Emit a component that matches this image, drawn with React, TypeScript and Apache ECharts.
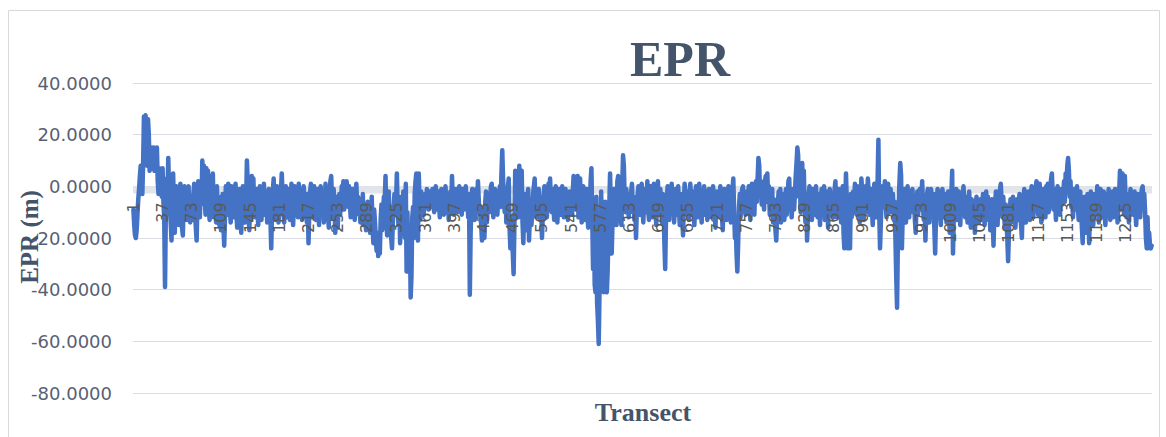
import React, { useEffect, useRef } from "react";
import * as echarts from "echarts";

// EPR values (m) per transect in blocks of 36 transects
const epr0001 = [-9,-15,-19,-20,-17,-11,-5,-1,4,8,2,-3,9,27,25,27.5,22,8,26,20,6,12,7,15,9,15,6,14,7,15,2,-3,7,-2,6,-4];
const epr0037 = [7,-6,-12,-39,-10,3,-4,11,-2,-8,-14,-21,-6,5,-9,-18,-3,0,-12,-7,-15,-2,1,-10,-16,-19,-5,0,-11,-6,-13,-1,0,-8,-14,-4];
const epr0073 = [-9,-13,-3,1,-10,-16,-21,-6,2,-4,-12,-1,-7,10,3,8,-5,-11,7,-2,6,-9,-13,-3,4,-8,5,-12,-1,-6,-14,0,-9,-4,-15,-7];
const epr0109 = [-17,-10,-3,-15,-23,-12,0,-6,-11,1,-4,-9,-14,0,-7,-2,-12,-5,1,-10,-16,-3,-8,-1,-13,-18,-6,0,-9,-4,-14,-7,10,2,-11,-17];
const epr0145 = [-6,-13,4,-2,3,-8,-12,-5,-1,-10,-15,-4,0,-9,-13,-3,-7,1,-11,-6,-2,-14,-8,-1,-5,-12,-24,-10,-2,3,-6,-13,-4,0,-9,-14];
const epr0181 = [-7,-11,-2,5,-3,-9,-14,-5,0,-8,-12,-1,-6,-13,-4,1,-9,-15,-7,0,-3,-10,-6,-12,1,-5,-9,-2,-13,-7,0,-4,-11,-8,-14,-3];
const epr0217 = [-22,-9,-2,1,-6,-12,-4,0,-8,-13,-5,-1,-9,-15,-3,0,-7,-11,-2,-14,-6,1,-10,-4,-8,-16,-3,2,4,-5,-12,-1,-7,-18,-9,-4];
const epr0253 = [-16,-8,-3,-11,-6,0,-4,2,-9,1,-5,2,-2,-8,0,-6,-12,-3,-1,-9,-5,-13,-2,1,-7,-4,-11,-8,-14,-5,-10,-3,-15,-9,-12,-17];
const epr0289 = [-10,-6,-14,-8,-18,-12,-4,-16,-22,-9,-14,-20,-25,-18,-27,-20,-26,-13,-7,-17,-10,-4,-6,4,-12,-19,-9,-2,-15,-12,-20,-24,-14,-8,-3,-11];
const epr0325 = [-6,5,-9,-15,-4,-22,-12,-18,-7,-2,-14,-20,1,-33,-10,-25,-30,-16,-43,-35,-12,-8,-20,-3,2,5,-10,-21,5,-6,-13,-2,-8,-4,-11,-6];
const epr0361 = [-3,-7,-1,-5,-9,-2,-6,-4,-8,-1,-5,-10,-3,0,-6,-9,-2,-7,-12,-4,-1,-8,-5,-11,-3,0,-7,-10,-4,-13,-6,-2,-9,4,-5,-11];
const epr0397 = [-3,-8,-1,-5,-10,-2,0,-7,-4,-11,-1,-6,-9,-2,0,-8,-5,-12,-3,-42,-18,-6,-1,-9,-4,-13,-7,-1,-10,2,-5,-11,-8,-15,-21,-9];
const epr0433 = [-12,-20,-6,-2,-14,-8,-3,-10,-5,0,1,-7,-12,-3,-1,-9,-4,-11,-2,-6,0,-8,5,14,3,-5,-10,-2,-14,-6,0,3,-16,-24,-12,-18];
const epr0469 = [-26,-34,-15,6,-4,-9,2,-12,8,-2,-7,6,-14,-22,-8,-3,-17,-10,-5,-1,-21,-12,-6,-15,-9,-3,0,3,-7,-12,-4,-10,-1,-6,-13,-8];
const epr0505 = [-20,-11,-4,0,-8,-3,-12,-6,1,-2,3,-5,-10,-1,-7,-13,-3,0,-9,-14,-6,-1,-4,-11,-2,0,-8,-12,-5,-1,-9,-3,-13,-7,-2,-10];
const epr0541 = [-5,-11,-2,4,-6,3,-9,-1,4,-12,-4,3,-7,-14,-3,0,-8,-13,-5,-1,-10,-16,-4,-9,2,7,-12,-32,-6,-38,-41,-4,-45,-52,-61,-40];
const epr0577 = [-30,-2,-20,-35,-41,-28,-6,-40,-41,-33,-18,-8,5,-10,-26,-14,-6,-1,-11,-4,-15,2,4,-7,-2,-12,-15,0,12,8,-5,-10,-1,-7,-3,-12];
const epr0613 = [-6,-10,-2,1,-8,-4,-13,-7,-20,-9,-3,0,-6,-11,-2,1,-8,-14,-4,-1,-10,-5,2,-9,-13,-3,0,-7,-12,-2,1,-6,-10,-15,-4,2];
const epr0649 = [-5,-11,-1,-7,-14,-3,-9,-22,-32,-12,-4,0,-8,-13,-2,-6,1,-10,-4,-14,-7,-1,-11,-5,0,-9,-15,-3,-7,-12,-19,-6,1,-4,-10,-2];
const epr0685 = [-8,-13,-3,1,-6,-11,-2,-9,-15,-4,0,-7,-12,-1,1,-5,-10,-14,-3,-8,0,-6,-11,-2,-13,-5,-1,-9,-4,-12,-7,0,-3,-10,-16,-6];
const epr0721 = [-2,-9,-4,-12,0,-6,-11,-17,-5,-1,-8,-3,-13,-6,0,-10,-4,-14,-7,-1,3,-9,-20,-14,-26,-33,-22,-8,-3,-12,-5,-1,0,-9,-4,-11];
const epr0757 = [-6,-2,-10,0,-5,-13,-3,1,-8,-4,-11,-1,2,-6,3,11,8,-3,2,-7,1,-4,-9,2,4,-2,5,-6,0,-11,-3,-8,-1,-14,-5,-10];
const epr0793 = [-17,-21,-12,-6,-2,-9,-1,-14,-5,-10,-3,-13,-7,-1,-11,-4,2,3,-8,-2,-12,-5,-1,-9,-3,4,9,15,12,-4,6,-10,1,9,-3,6];
const epr0829 = [-8,-14,-5,-21,-12,-3,0,-9,-4,-13,-1,-7,-11,-2,0,-6,-12,-3,-8,-15,-5,-1,-10,-4,0,-13,-6,-2,-9,-16,-4,-1,-11,-7,-3,-12];
const epr0865 = [-5,-1,2,-8,-12,-4,-1,-9,-6,-14,-3,0,-18,-24,-10,5,-6,-24,-15,-9,-24,-3,-12,-7,-2,-10,1,-5,-11,0,-4,-9,-14,-6,3,-2];
const epr0901 = [-8,-13,-4,0,-10,-5,3,-2,-11,-6,-1,-9,-15,-4,1,-8,-3,-12,2,18,-10,-24,-14,-5,0,-8,-3,2,-7,-12,-2,1,-6,-10,-1,-5];
const epr0937 = [-9,-3,-13,-6,-20,-35,-47,-22,-8,2,9,4,-24,-11,-4,-1,-9,-14,-5,0,-7,-12,-2,-8,-4,-1,-10,-6,-13,-18,-7,-2,-11,-5,-1,-9];
const epr0973 = [-4,2,-8,-13,-6,-21,-10,-3,-1,-9,-14,-4,-1,-7,-11,-3,-16,-26,-12,-5,-1,-8,-2,-10,-15,-4,-1,-7,-12,-3,-9,-14,-6,-2,-11,-18];
const epr1009 = [-10,-3,6,-26,-12,-4,-8,-1,-13,-6,-2,-10,-15,-5,-9,-3,0,-7,-12,-4,-9,-14,-6,-2,-11,-16,-5,-9,-13,-6,-18,-8,-4,-11,-7,-14];
const epr1045 = [-9,-5,-12,-7,-3,-10,-15,-6,-2,-9,-4,-13,-8,-17,-10,-5,-14,-23,-11,-6,-2,-9,-15,-4,-8,-1,1,-6,-12,-4,-10,-16,-7,-13,-20,-29];
const epr1081 = [-18,-10,-5,-14,-8,-4,-12,-6,-16,-9,-5,-13,-7,-3,-11,-15,-20,-8,-4,-1,-9,-14,-5,-10,-2,-7,-13,-4,0,-8,-12,-3,-9,-1,2,-6];
const epr1117 = [-11,-4,1,-8,-14,-3,-9,-1,-6,-12,0,-4,1,-10,-5,-2,3,5,-3,-9,-1,-6,-13,-4,0,-8,-2,-11,-5,-1,-7,-3,2,-6,5,1];
const epr1153 = [8,11,6,-4,2,-8,-3,-12,-6,-1,-9,-4,0,-7,-13,-5,-2,-10,-16,-22,-9,-4,-13,-7,-18,-3,-11,-22,-8,-2,-12,-5,-15,-9,-3,-10];
const epr1189 = [-6,0,-9,-14,-4,-1,-8,-12,-5,-2,-10,-15,-6,-3,-11,-1,-7,-13,-4,-9,-2,-12,-6,-1,-10,-4,-14,-7,-2,6,-5,-9,5,-3,-11,4];
const epr1225 = [-6,-12,-3,-8,-14,-5,-1,-9,-4,-11,-7,-2,-10,-15,-6,-3,-9,-5,-12,-4,-1,0,-8,-3,-10,-20,-24,-12,-24,-18,-23,-24,-23];

const eprValues: number[] = [
  ...epr0001, ...epr0037, ...epr0073, ...epr0109, ...epr0145, ...epr0181, ...epr0217,
  ...epr0253, ...epr0289, ...epr0325, ...epr0361, ...epr0397, ...epr0433, ...epr0469,
  ...epr0505, ...epr0541, ...epr0577, ...epr0613, ...epr0649, ...epr0685, ...epr0721,
  ...epr0757, ...epr0793, ...epr0829, ...epr0865, ...epr0901, ...epr0937, ...epr0973,
  ...epr1009, ...epr1045, ...epr1081, ...epr1117, ...epr1153, ...epr1189, ...epr1225,
];

// Transect numbers 1..N (category labels)
const transects: string[] = eprValues.map((_, i) => String(i + 1));

const yMin = -80;
const yMax = 40;
const yStep = 20;

const GRID_TOP = 83;
const GRID_BOTTOM = 44;
const CHART_H = 437;

export default function App() {
  const ref = useRef<HTMLDivElement>(null);

  useEffect(() => {
    if (!ref.current) return;
    const chart = echarts.init(ref.current, null, { renderer: "svg" });
    const slate = "#44546a";
    const gridH = CHART_H - GRID_TOP - GRID_BOTTOM;
    const zeroY = GRID_TOP + (yMax / (yMax - yMin)) * gridH;
    const axisOffset = zeroY - (CHART_H - GRID_BOTTOM);
    chart.setOption({
      animation: false,
      backgroundColor: "#ffffff",
      grid: {
        left: 133,
        right: 14,
        top: GRID_TOP,
        bottom: GRID_BOTTOM,
        containLabel: false,
        outerBoundsMode: "none",
      },
      xAxis: {
        type: "category",
        data: transects,
        boundaryGap: true,
        position: "bottom",
        offset: axisOffset,
        z: 50,
        zlevel: 1,
        axisLine: { show: false, onZero: false },
        axisTick: { show: false },
        axisLabel: {
          interval: 35,
          rotate: 90,
          margin: 16,
          fontFamily: "DejaVu Sans",
          fontSize: 16,
          color: "#595959",
        },
        splitLine: { show: false },
      },
      yAxis: {
        type: "value",
        min: yMin,
        max: yMax,
        interval: yStep,
        z: 0,
        axisLine: { show: false },
        axisTick: { show: false },
        axisLabel: {
          formatter: (v: number) => v.toFixed(4),
          fontFamily: "DejaVu Sans",
          fontSize: 18,
          color: "#586174",
          margin: 21,
        },
        splitLine: { lineStyle: { color: "#d9dde3", width: 1 } },
      },
      series: [
        {
          type: "line",
          z: 1,
          data: eprValues,
          showSymbol: false,
          symbol: "none",
          lineStyle: { color: "#4472c4", width: 4.5, join: "round", cap: "round" },
          markArea: {
            silent: true,
            itemStyle: { color: "#e1e4e9" },
            data: [[{ yAxis: 0 }, { yAxis: -2.8 }]],
          },
        },
      ],
      graphic: [
        {
          type: "rect",
          shape: { x: 8.5, y: 10.5, width: 1151, height: 440 },
          style: { fill: "none", stroke: "#d9d9d9", lineWidth: 1 },
          silent: true,
        },
        {
          type: "text",
          x: 680,
          y: 59,
          style: {
            text: "EPR",
            fontFamily: "Liberation Serif",
            fontWeight: "bold",
            fontSize: 50,
            fill: slate,
            align: "center",
            verticalAlign: "middle",
          },
        },
        {
          type: "text",
          x: 29,
          y: 237,
          rotation: Math.PI / 2,
          style: {
            text: "EPR (m)",
            fontFamily: "Liberation Serif",
            fontWeight: "bold",
            fontSize: 25,
            fill: slate,
            align: "center",
            verticalAlign: "middle",
          },
        },
        {
          type: "text",
          x: 643,
          y: 412,
          style: {
            text: "Transect",
            fontFamily: "Liberation Serif",
            fontWeight: "bold",
            fontSize: 26,
            fill: slate,
            align: "center",
            verticalAlign: "middle",
          },
        },
      ],
    });
    return () => chart.dispose();
  }, []);

  return (
    <div
      ref={ref}
      style={{ position: "absolute", left: 0, top: 0, width: 1166, height: 437, background: "#fff" }}
    />
  );
}
